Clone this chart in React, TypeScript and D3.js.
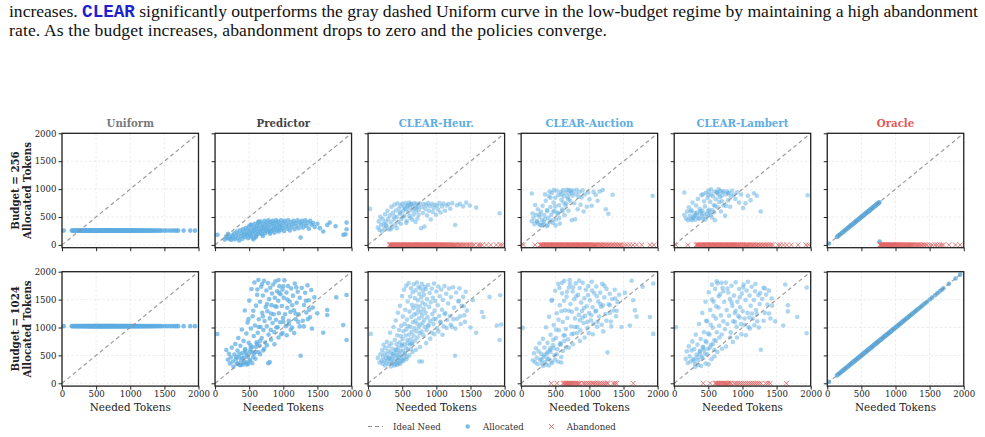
import React, { useEffect, useRef } from "react";
import * as d3 from "d3";

const policies = ["Uniform", "Predictor", "CLEAR-Heur.", "CLEAR-Auction", "CLEAR-Lambert", "Oracle"];
const titleColors = ["#7a7a7a", "#444444", "#5dade2", "#5dade2", "#5dade2", "#e05a5a"];
const budgets = [256, 1024];
const ticks = [0, 500, 1000, 1500, 2000];

// requested token counts (shared by Uniform and Oracle panels)
const needed = [25, 142, 158, 171, 186, 199, 214, 228, 236, 251, 263, 277, 289, 302, 311, 324, 337, 345, 358, 366, 379, 388, 397, 405, 412, 421, 433, 441, 450, 458, 466, 473, 481, 489, 497, 504, 512, 519, 527, 534, 541, 549, 556, 563, 571, 578, 585, 592, 600, 607, 614, 622, 629, 637, 644, 651, 659, 666, 673, 681, 688, 696, 703, 711, 718, 726, 733, 741, 748, 756, 763, 771, 779, 787, 795, 803, 811, 820, 828, 837, 845, 854, 863, 871, 880, 889, 898, 907, 916, 925, 935, 944, 954, 963, 973, 983, 993, 1004, 1014, 1025, 1036, 1047, 1058, 1070, 1081, 1093, 1105, 1118, 1131, 1144, 1157, 1171, 1185, 1199, 1214, 1229, 1244, 1260, 1277, 1294, 1312, 1331, 1350, 1371, 1392, 1415, 1438, 1462, 1502, 1535, 1578, 1612, 1648, 1676, 1702, 1782, 1879, 1948];
const oracleCut256 = 765;
const oraclePartial256 = [[768, 60]];

// [needed, allocated]
const predictor256 = [[35,180],[140,95],[160,150],[175,120],[190,200],[205,110],[220,140],[235,90],[250,170],[265,130],[280,210],[290,100],[305,160],[318,240],[330,120],[342,190],[355,80],[365,260],[378,150],[390,210],[400,110],[410,280],[420,180],[430,230],[440,140],[450,300],[460,200],[470,170],[478,260],[486,120],[494,330],[502,220],[510,180],[518,280],[526,150],[534,360],[542,240],[550,200],[558,310],[566,130],[574,270],[582,380],[590,220],[598,300],[606,170],[614,340],[622,250],[630,400],[638,200],[646,290],[654,350],[662,230],[670,420],[678,270],[686,190],[694,330],[702,380],[710,250],[718,300],[726,430],[734,210],[742,350],[750,280],[758,400],[766,240],[774,320],[782,440],[790,260],[798,360],[806,200],[814,410],[822,300],[830,250],[838,380],[846,430],[854,280],[862,340],[870,220],[878,400],[886,310],[894,440],[902,260],[910,360],[918,300],[926,420],[934,240],[942,380],[950,330],[960,270],[970,440],[980,350],[990,300],[1000,400],[1012,250],[1024,430],[1036,330],[1048,380],[1060,290],[1072,440],[1084,350],[1096,260],[1110,410],[1124,320],[1138,370],[1152,430],[1166,280],[1180,390],[1194,340],[1210,440],[1226,300],[1242,400],[1254,131],[1258,360],[1274,430],[1290,310],[1306,380],[1322,440],[1340,340],[1358,400],[1376,290],[1394,430],[1414,360],[1436,390],[1460,320],[1500,380],[1535,300],[1585,239],[1644,358],[1680,400],[1766,334],[1880,180],[1912,191],[1927,400],[1927,280],[600,140],[700,160],[800,230],[520,360],[640,420],[560,100]];

const heur256 = [[29,645],[142,312],[156,421],[168,268],[179,503],[191,355],[203,245],[214,462],[226,380],[238,296],[249,548],[261,417],[272,333],[284,612],[295,466],[307,276],[318,529],[330,402],[341,681],[352,318],[364,574],[375,455],[386,721],[397,362],[409,617],[420,498],[431,745],[442,411],[454,652],[465,560],[476,707],[487,466],[499,738],[510,603],[521,680],[532,522],[544,749],[555,641],[566,431],[577,712],[589,590],[600,758],[611,668],[622,485],[634,731],[645,620],[656,700],[667,545],[679,752],[690,655],[701,598],[712,734],[724,472],[735,690],[746,626],[757,745],[777,299],[790,680],[803,571],[815,738],[826,328],[838,646],[851,712],[864,525],[877,750],[890,612],[904,692],[918,455],[932,738],[946,590],[961,662],[976,720],[992,540],[1008,702],[1025,635],[1043,748],[1062,580],[1082,690],[1103,742],[1126,612],[1150,705],[1176,733],[1204,650],[1233,748],[1276,358],[1302,712],[1345,735],[1392,690],[1437,758],[1490,705],[1584,669],[1927,567],[470,580],[515,505],[560,395],[605,520],[650,452],[695,410],[740,540],[385,510],[330,280],[260,350],[420,300],[480,380],[540,650],[585,700],[625,735],[705,665]];
const heur256Ab = [313, 322, 335, 347, 356, 369, 381, 390, 404, 415, 427, 436, 449, 461, 470, 483, 495, 506, 517, 529, 538, 551, 563, 572, 585, 597, 608, 619, 631, 642, 654, 665, 676, 689, 700, 712, 723, 735, 746, 758, 770, 781, 793, 804, 816, 828, 839, 851, 862, 874, 886, 897, 909, 920, 933, 945, 956, 968, 980, 993, 1006, 1018, 1031, 1044, 1057, 1070, 1083, 1097, 1110, 1124, 1138, 1152, 1166, 1181, 1196, 1211, 1226, 1242, 1258, 1275, 1292, 1309, 1327, 1346, 1365, 1385, 1406, 1428, 1452, 1478, 1500, 1528, 1553, 1612, 1640, 1672, 1734, 1796, 1878, 1936, 1966];

const auction256 = [[156,921],[166,564],[156,424],[181,487],[196,372],[205,715],[219,541],[232,418],[245,640],[254,382],[268,505],[279,352],[291,592],[303,447],[314,700],[326,371],[338,533],[349,462],[360,791],[372,336],[383,602],[395,488],[406,873],[418,412],[429,680],[441,536],[452,932],[464,395],[475,758],[487,610],[498,846],[510,455],[521,970],[533,560],[544,892],[556,712],[567,382],[579,948],[590,808],[602,640],[613,982],[625,870],[636,533],[648,930],[659,742],[671,987],[682,856],[694,612],[705,915],[717,790],[728,968],[741,442],[752,880],[765,975],[778,746],[790,460],[802,910],[815,988],[828,640],[840,862],[855,945],[870,720],[885,850],[900,978],[915,600],[930,904],[961,685],[980,942],[1000,818],[1034,703],[1060,950],[1093,897],[1120,790],[1150,958],[1195,982],[1240,640],[1278,558],[1340,900],[1927,879],[350,905],[415,955],[478,985],[540,575],[604,605],[650,705],[700,985],[380,625],[430,845],[270,545],[230,425],[470,595],[330,410],[390,355],[450,440],[505,350],[560,480],[620,760],[690,820],[740,935],[590,905],[500,690],[300,350]];
const auction256Ab = [34, 205, 278, 290, 302, 315, 327, 339, 352, 364, 376, 389, 401, 413, 426, 438, 451, 463, 475, 488, 500, 512, 525, 537, 549, 562, 574, 587, 599, 611, 624, 636, 648, 661, 673, 686, 698, 710, 723, 735, 747, 760, 772, 785, 797, 809, 822, 834, 846, 859, 871, 884, 897, 910, 923, 936, 949, 963, 977, 991, 1005, 1020, 1035, 1050, 1066, 1082, 1098, 1115, 1132, 1150, 1168, 1187, 1206, 1226, 1246, 1267, 1288, 1310, 1333, 1356, 1380, 1404, 1428, 1449, 1473, 1512, 1548, 1592, 1640, 1693, 1766, 1888, 1946];

const lambert256 = [[149,939],[149,533],[174,473],[188,598],[201,444],[215,676],[228,521],[241,462],[254,622],[268,758],[281,489],[294,571],[307,452],[320,705],[333,540],[346,822],[359,478],[372,648],[385,563],[398,892],[411,617],[424,468],[437,781],[450,690],[463,936],[476,557],[489,842],[502,968],[515,628],[528,771],[541,905],[554,492],[567,872],[580,712],[593,958],[597,442],[610,818],[622,942],[635,676],[648,905],[660,768],[672,968],[685,598],[698,882],[710,944],[722,705],[746,521],[760,902],[775,962],[790,798],[805,925],[820,684],[846,970],[871,897],[895,822],[920,942],[950,760],[980,902],[1010,662],[1045,745],[1080,882],[1120,802],[1169,927],[1210,880],[1269,600],[1955,891],[330,582],[380,604],[430,560],[470,505],[520,562],[560,620],[600,702],[280,505],[240,602],[420,905],[500,895],[540,995],[650,995],[700,782],[760,700],[365,470],[405,520],[455,455],[495,610],[535,540],[585,585],[630,935],[670,855],[720,960],[785,930],[830,870],[310,520],[265,445]];
const lambert256Ab = [25, 199, 323, 336, 348, 361, 373, 386, 398, 411, 423, 436, 448, 461, 473, 486, 498, 511, 523, 536, 548, 561, 573, 586, 598, 611, 623, 636, 648, 661, 673, 686, 698, 711, 723, 736, 748, 761, 773, 786, 798, 811, 823, 836, 849, 862, 875, 888, 901, 915, 929, 943, 957, 972, 987, 1002, 1018, 1034, 1050, 1067, 1084, 1101, 1119, 1137, 1156, 1175, 1195, 1215, 1236, 1257, 1279, 1301, 1324, 1347, 1371, 1395, 1419, 1443, 1517, 1553, 1601, 1650, 1716, 1816, 1930, 1970];

const predictor1024 = [[34,884],[166,597],[188,422],[204,530],[218,355],[231,468],[245,640],[259,392],[270,301],[284,515],[297,705],[306,430],[318,352],[329,588],[341,812],[350,466],[362,325],[371,672],[383,407],[392,965],[401,541],[409,338],[418,760],[426,458],[435,1305],[443,612],[451,381],[459,893],[468,506],[476,1088],[484,347],[493,726],[501,1482],[509,566],[517,418],[526,981],[534,1690],[542,651],[551,1203],[559,472],[567,848],[576,1806],[584,1037],[592,560],[601,1392],[609,733],[617,1588],[626,904],[634,1852],[642,1149],[651,677],[659,1462],[667,1010],[676,1731],[684,812],[692,1264],[701,1573],[709,954],[717,1838],[726,1117],[734,732],[742,1368],[751,1662],[759,1021],[767,1290],[776,1796],[784,873],[792,1508],[801,1163],[809,1712],[817,956],[826,1401],[834,1609],[842,1082],[851,1770],[859,1238],[867,919],[876,1534],[884,1826],[892,1138],[901,1372],[909,1650],[918,1004],[926,1480],[935,1255],[943,1741],[952,1093],[960,1597],[969,880],[978,1386],[987,1680],[996,1170],[1006,1532],[1016,1846],[1026,1237],[1036,1024],[1047,1627],[1058,1355],[1069,1742],[1080,1118],[1092,1467],[1104,1280],[1116,1700],[1129,998],[1142,1571],[1155,1310],[1168,1788],[1182,1150],[1196,1444],[1211,1642],[1226,1235],[1241,1532],[1254,495],[1270,1707],[1286,1121],[1303,1404],[1320,1622],[1337,1268],[1354,1755],[1372,1489],[1391,1184],[1410,1672],[1432,1357],[1455,1540],[1498,1254],[1585,907],[1644,1313],[1644,1224],[1776,1540],[1878,1045],[1927,776],[1927,1582],[312,470],[336,360],[357,528],[379,330],[398,455],[421,372],[440,590],[462,338],[480,470],[503,395],[521,620],[545,360],[568,530],[590,440],[614,705],[637,560],[661,760],[706,590],[780,358],[802,380],[455,540],[520,680],[640,1010],[700,1200],[760,1420],[820,1250],[880,1380],[940,1620],[1000,1740],[560,1300],[490,1150],[620,1680],[690,1780],[930,1850],[1060,1500],[1130,1400],[1190,1720],[1240,1020],[1330,1480],[1380,1320],[820,780],[870,700],[930,820],[990,900],[1050,860],[1110,960],[1160,900],[1220,1100],[1300,1020],[1360,1150],[1420,980],[720,620],[760,680],[660,520],[600,650],[540,560],[900,1000],[1000,1100],[1080,1060],[1180,1250]];

const heur1024 = [[39,885],[142,455],[168,372],[181,520],[196,410],[205,598],[212,351],[219,477],[226,690],[233,402],[241,540],[247,318],[254,633],[262,455],[268,371],[275,742],[281,509],[288,426],[296,580],[302,341],[309,667],[315,458],[322,905],[327,389],[334,552],[341,715],[347,433],[353,360],[359,618],[366,488],[372,1010],[378,402],[385,540],[391,779],[397,343],[402,463],[406,1125],[411,598],[415,371],[419,702],[424,512],[428,861],[433,416],[437,1264],[441,639],[446,355],[450,548],[454,954],[458,447],[463,737],[467,1388],[471,581],[476,391],[480,846],[484,1032],[489,497],[493,668],[497,1563],[502,412],[506,793],[510,1196],[515,584],[519,934],[523,449],[528,1679],[532,702],[536,1065],[541,523],[545,1318],[549,858],[554,637],[558,1749],[562,966],[567,471],[571,1142],[575,776],[580,1467],[584,605],[588,1025],[593,1791],[603,873],[607,1284],[612,695],[616,1556],[621,1012],[625,788],[630,1703],[634,1187],[639,922],[643,1408],[648,706],[652,1632],[657,1094],[661,1345],[666,851],[670,1775],[675,1231],[679,985],[684,1528],[688,768],[693,1123],[697,1667],[702,1392],[706,934],[711,1251],[715,1806],[720,1067],[724,821],[729,1489],[733,1318],[738,1729],[742,998],[747,1165],[751,1604],[756,894],[760,1380],[765,1702],[769,1049],[774,1275],[778,1541],[783,928],[787,1781],[792,1212],[796,1448],[801,1083],[806,1657],[810,863],[815,1329],[819,1587],[824,1140],[828,1731],[833,1008],[838,1412],[843,1263],[848,1690],[856,952],[863,1508],[871,1186],[878,1762],[886,1045],[894,1369],[901,1618],[909,1114],[917,1452],[925,911],[933,1697],[941,1240],[949,1533],[958,1061],[966,1788],[974,1302],[983,1474],[992,1152],[1001,1645],[1010,985],[1020,1398],[1030,1733],[1040,1207],[1050,1561],[1061,1088],[1072,1680],[1083,1318],[1095,1492],[1107,1021],[1119,1742],[1132,1260],[1145,1605],[1158,1134],[1172,1431],[1186,1698],[1200,1205],[1214,1546],[1229,1012],[1244,1721],[1260,1356],[1274,494],[1290,1628],[1306,1158],[1322,1467],[1339,1702],[1356,1063],[1373,1391],[1391,1549],[1410,1219],[1430,1640],[1448,1302],[1500,1000],[1534,1488],[1583,904],[1667,1277],[1691,1187],[1779,1548],[1887,1036],[1936,1578],[1951,1054],[1926,777],[750,392],[789,392],[310,450],[335,300],[358,520],[382,318],[404,600],[427,330],[449,470],[472,352],[494,690],[517,402],[539,540],[561,430],[583,720],[606,500],[628,610],[651,560],[850,720],[910,800],[970,880],[1030,930],[1090,870],[1150,990],[1210,1050],[1280,980],[1350,1200],[1420,1100],[700,600],[640,720],[760,650],[880,1020],[960,1150],[1060,1100],[1120,1240],[1250,1150],[1400,1380],[1330,1480]];

const auction1024 = [[25,994],[172,412],[189,538],[203,377],[217,629],[229,456],[242,342],[256,574],[268,719],[281,417],[293,528],[305,361],[318,796],[329,472],[341,640],[352,383],[364,1005],[375,528],[386,725],[397,445],[409,1193],[420,592],[431,870],[442,392],[454,1497],[465,684],[476,1043],[487,501],[498,1659],[509,812],[521,1256],[532,611],[543,1782],[554,951],[566,1398],[577,723],[588,374],[599,1612],[610,1098],[621,858],[632,1839],[644,1307],[655,972],[666,1553],[677,1170],[688,790],[699,1716],[711,1849],[722,1422],[733,1019],[744,1283],[755,1646],[767,892],[778,1505],[789,1163],[800,1790],[812,1331],[823,1010],[834,1584],[845,1226],[857,1708],[868,948],[879,1446],[891,1295],[902,1802],[914,1080],[925,1524],[937,1208],[948,1677],[960,1381],[972,994],[984,1741],[996,1258],[1008,1487],[1021,1130],[1034,1820],[1047,1362],[1060,1066],[1073,1611],[1087,1289],[1101,1735],[1115,1012],[1129,1467],[1143,1198],[1158,1625],[1173,1372],[1188,1781],[1203,931],[1219,1540],[1235,1240],[1251,1692],[1265,554],[1282,1417],[1299,1604],[1316,1107],[1334,1512],[1352,1306],[1371,1676],[1390,1202],[1412,1454],[1436,1588],[1470,1010],[1520,1620],[1593,1036],[1618,1837],[1642,1488],[1667,1307],[1690,1196],[1779,1729],[1887,1187],[1936,1789],[1936,885],[295,430],[318,310],[341,505],[363,335],[386,430],[408,320],[431,560],[453,365],[476,630],[498,420],[521,520],[543,385],[566,690],[588,470],[611,580],[633,760],[656,640],[385,560],[426,628],[470,780],[512,965],[548,1140],[590,1290],[630,1480],[672,1640],[716,1780],[760,1720],[805,1560],[850,1840],[560,1710],[445,1480],[600,1800],[700,1300],[740,880],[790,1010],[860,1130],[920,1350],[980,1580],[1040,1660],[1110,1560],[1160,1420],[1220,1750],[1300,1260],[1380,1520],[860,760],[930,820],[990,900],[1050,880],[1120,1100],[1180,1050],[1250,1120],[1320,1020],[1400,1300],[700,640],[760,700],[820,900],[900,1180],[970,1100],[1030,1220],[1100,1300],[1200,1400],[1300,1400],[640,860],[580,700]];
const auction1024Ab = [441, 525, 613, 628, 641, 655, 668, 684, 697, 712, 726, 741, 757, 772, 790, 806, 823, 841, 858, 907, 930, 958, 985, 1012, 1040, 1054, 1078, 1102, 1127, 1152, 1178, 1204, 1231, 1258, 1274, 1348, 1372, 1397, 1642];

const lambert1024 = [[25,1006],[168,438],[184,575],[199,364],[213,661],[227,482],[240,390],[253,587],[266,751],[279,433],[292,612],[304,348],[317,872],[329,515],[341,693],[353,411],[365,1062],[377,571],[389,793],[400,470],[412,1262],[424,655],[436,916],[447,532],[459,1461],[471,735],[482,1112],[494,615],[506,1633],[518,874],[529,1315],[541,692],[553,1768],[565,995],[577,1462],[588,777],[600,1692],[612,1160],[624,915],[636,1791],[648,1359],[660,1031],[672,1594],[684,1217],[696,874],[708,1712],[720,1110],[732,1461],[744,970],[756,1805],[768,1312],[780,1062],[792,1626],[804,1210],[816,1508],[828,912],[840,1749],[852,1388],[864,1110],[876,1572],[888,1258],[900,1810],[913,1012],[926,1462],[939,1208],[952,1690],[965,1362],[978,1060],[991,1610],[1004,1290],[1018,1770],[1032,1160],[1046,1493],[1060,1663],[1075,1262],[1090,1010],[1105,1572],[1120,1391],[1136,1731],[1152,1160],[1168,1492],[1184,1650],[1200,1312],[1217,1112],[1234,1580],[1252,1420],[1270,602],[1289,1512],[1308,1712],[1327,1262],[1347,1590],[1367,1411],[1388,1660],[1410,1162],[1434,1390],[1480,1110],[1597,1036],[1627,1771],[1666,1398],[1666,1289],[1803,1187],[1941,1717],[1941,898],[288,410],[309,295],[331,462],[352,330],[374,520],[395,310],[417,450],[438,600],[460,355],[481,520],[503,340],[524,640],[546,430],[567,700],[589,480],[610,760],[632,560],[380,582],[420,640],[458,760],[497,890],[536,1050],[575,1210],[614,1380],[653,1560],[692,1800],[622,1830],[780,1700],[556,1500],[468,1120],[720,1650],[840,1450],[900,1300],[960,1540],[1010,1720],[1080,1820],[1140,1250],[1190,1780],[1260,1620],[1330,1700],[860,740],[920,820],[985,880],[1050,860],[1110,980],[1175,1040],[1240,1000],[1310,1120],[1390,1250],[1430,1520],[700,620],[760,660],[820,820],[890,1100],[960,1180],[1030,1050],[1100,1180],[1210,1240],[660,820],[590,600]];
const lambert1024Ab = [426, 525, 598, 612, 627, 641, 656, 670, 686, 701, 717, 733, 749, 766, 783, 800, 818, 836, 880, 905, 932, 960, 988, 1016, 1044, 1072, 1100, 1128, 1157, 1186, 1215, 1245, 1275, 1340, 1372, 1407, 1642];

const W = 985, H = 437;
const left0 = 62, colStep = 153.05, panelW = 136.5;
const rowTop = [133.3, 271.7], panelH = 114.4;
const serif = "'DejaVu Serif', serif";
const blue = "#5dade2", red = "#e06666";

type Panel = { alloc: number[][]; abandoned: number[]; alpha: number };

function buildPanels(): Panel[][] {
  const row256: Panel[] = [
    { alloc: needed.map((n) => [n, budgets[0]]), abandoned: [], alpha: 0.8 },
    { alloc: predictor256, abandoned: [], alpha: 0.75 },
    { alloc: heur256, abandoned: heur256Ab, alpha: 0.5 },
    { alloc: auction256, abandoned: auction256Ab, alpha: 0.5 },
    { alloc: lambert256, abandoned: lambert256Ab, alpha: 0.5 },
    {
      alloc: needed.filter((n) => n <= oracleCut256).map((n) => [n, n]).concat(oraclePartial256),
      abandoned: needed.filter((n) => n > oracleCut256),
      alpha: 0.8,
    },
  ];
  const row1024: Panel[] = [
    { alloc: needed.map((n) => [n, budgets[1]]), abandoned: [], alpha: 0.8 },
    { alloc: predictor1024, abandoned: [], alpha: 0.72 },
    { alloc: heur1024, abandoned: [], alpha: 0.5 },
    { alloc: auction1024, abandoned: auction1024Ab, alpha: 0.5 },
    { alloc: lambert1024, abandoned: lambert1024Ab, alpha: 0.5 },
    { alloc: needed.map((n) => [n, n]), abandoned: [], alpha: 0.8 },
  ];
  return [row256, row1024];
}

const xMark = "M-2.4,-2.4L2.4,2.4M-2.4,2.4L2.4,-2.4";

export default function App() {
  const ref = useRef<SVGSVGElement>(null);

  useEffect(() => {
    const svg = d3.select(ref.current);
    svg.selectAll("*").remove();

    // caption text above the figure
    const cap = svg.append("g").attr("font-family", "'Liberation Serif', serif").attr("font-size", 17.6).attr("fill", "#111");
    const l1 = cap.append("text").attr("x", 9).attr("y", 17).attr("textLength", 969).attr("lengthAdjust", "spacing");
    l1.append("tspan").text("increases. ");
    l1.append("tspan").attr("font-family", "'Liberation Mono', monospace").attr("font-weight", "bold").attr("fill", "#1f1fd0").text("CLEAR");
    l1.append("tspan").text(" significantly outperforms the gray dashed Uniform curve in the low-budget regime by maintaining a high abandonment");
    cap.append("text").attr("x", 9).attr("y", 36).attr("textLength", 598).attr("lengthAdjust", "spacing")
      .text("rate. As the budget increases, abandonment drops to zero and the policies converge.");

    const panels = buildPanels();

    panels.forEach((row, r) => {
      row.forEach((p, c) => {
        const x0 = left0 + c * colStep;
        const top = rowTop[r];
        const x = d3.scaleLinear().domain([0, 2000]).range([x0, x0 + panelW]);
        const y = d3.scaleLinear().domain([-50, 2000]).range([top + panelH, top]);
        const g = svg.append("g");

        g.selectAll(".gx").data(ticks).join("line")
          .attr("x1", (d) => x(d)).attr("x2", (d) => x(d)).attr("y1", top).attr("y2", top + panelH)
          .attr("stroke", "#e4e4e4").attr("stroke-width", 0.7).attr("stroke-dasharray", "2.5,2");
        g.selectAll(".gy").data(ticks).join("line")
          .attr("x1", x0).attr("x2", x0 + panelW).attr("y1", (d) => y(d)).attr("y2", (d) => y(d))
          .attr("stroke", "#e4e4e4").attr("stroke-width", 0.7).attr("stroke-dasharray", "2.5,2");

        g.append("g").selectAll("circle").data(p.alloc).join("circle")
          .attr("cx", (d) => x(d[0])).attr("cy", (d) => y(d[1])).attr("r", 2.3)
          .attr("fill", blue).attr("fill-opacity", p.alpha);

        g.append("g").selectAll("path").data(p.abandoned).join("path")
          .attr("d", xMark).attr("transform", (d) => `translate(${x(d)},${y(0)})`)
          .attr("stroke", red).attr("stroke-width", 1).attr("fill", "none").attr("stroke-opacity", 0.85);

        g.append("line")
          .attr("x1", x(0)).attr("y1", y(0)).attr("x2", x(2000)).attr("y2", y(2000))
          .attr("stroke", "#8c8c8c").attr("stroke-width", 1.2).attr("stroke-dasharray", "4,3").attr("opacity", 0.85);

        g.append("rect").attr("x", x0).attr("y", top).attr("width", panelW).attr("height", panelH)
          .attr("fill", "none").attr("stroke", "#222").attr("stroke-width", 1.3);

        const ax = g.append("g").attr("transform", `translate(0,${top + panelH})`)
          .call(d3.axisBottom(x).tickValues(ticks).tickSize(3.5).tickPadding(1.5)
            .tickFormat((d) => (r === 1 ? String(d) : "")));
        const ay = g.append("g").attr("transform", `translate(${x0},0)`)
          .call(d3.axisLeft(y).tickValues(ticks).tickSize(3.5).tickPadding(2)
            .tickFormat((d) => (c === 0 ? String(d) : "")));
        [ax, ay].forEach((a) => {
          a.select(".domain").remove();
          a.selectAll("line").attr("stroke", "#222");
          a.selectAll("text").attr("font-family", serif).attr("font-size", 8.6).attr("fill", "#222");
        });

        if (r === 0) {
          g.append("text").attr("x", x0 + panelW / 2).attr("y", top - 6.5).attr("text-anchor", "middle")
            .attr("font-family", serif).attr("font-weight", "bold").attr("font-size", 10.2)
            .attr("fill", titleColors[c]).text(policies[c]);
        }
        if (r === 1) {
          g.append("text").attr("x", x0 + panelW / 2).attr("y", 411).attr("text-anchor", "middle")
            .attr("font-family", serif).attr("font-size", 10.4).attr("fill", "#222").text("Needed Tokens");
        }
        if (c === 0) {
          const cy = top + panelH / 2;
          const yl = g.append("text").attr("transform", `translate(19,${cy}) rotate(-90)`).attr("text-anchor", "middle")
            .attr("font-family", serif).attr("font-weight", "bold").attr("font-size", 10.2).attr("fill", "#222");
          yl.append("tspan").attr("x", 0).attr("dy", 0).text(`Budget = ${budgets[r]}`);
          yl.append("tspan").attr("x", 0).attr("dy", 11.5).text("Allocated Tokens");
        }
      });
    });

    // legend
    const lg = svg.append("g").attr("font-family", serif).attr("font-size", 8.6).attr("fill", "#333");
    const ly = 426.5;
    lg.append("line").attr("x1", 368).attr("x2", 383).attr("y1", ly).attr("y2", ly)
      .attr("stroke", "#8c8c8c").attr("stroke-width", 1.2).attr("stroke-dasharray", "4,3");
    lg.append("text").attr("x", 393).attr("y", ly + 3).text("Ideal Need");
    lg.append("circle").attr("cx", 467.7).attr("cy", ly).attr("r", 2.3).attr("fill", blue).attr("fill-opacity", 0.8);
    lg.append("text").attr("x", 483).attr("y", ly + 3).text("Allocated");
    lg.append("path").attr("d", xMark).attr("transform", `translate(551.5,${ly})`)
      .attr("stroke", red).attr("stroke-width", 1).attr("fill", "none");
    lg.append("text").attr("x", 566.7).attr("y", ly + 3).text("Abandoned");
  }, []);

  return (
    <svg ref={ref} width={W} height={H} style={{ position: "absolute", left: 0, top: 0, background: "#fff" }} />
  );
}
